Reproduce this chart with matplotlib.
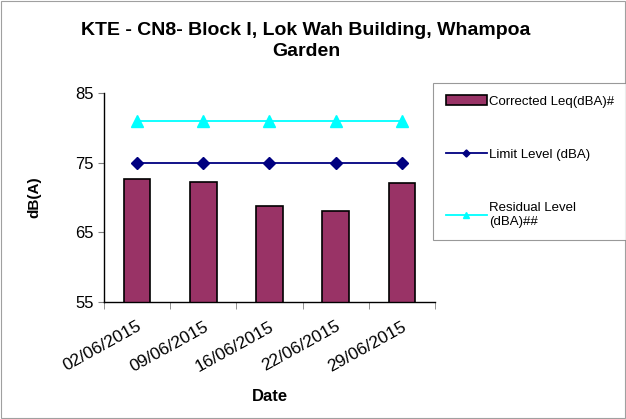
import numpy as np
import matplotlib.pyplot as plt
from matplotlib.patches import Rectangle

plt.rcParams['font.family'] = ['Liberation Sans', 'DejaVu Sans']

# data
dates = ["02/06/2015", "09/06/2015", "16/06/2015", "22/06/2015", "29/06/2015"]
corrected_leq = [72.7, 72.3, 68.8, 68.1, 72.1]
limit_level = [75, 75, 75, 75, 75]
residual_level = [81, 81, 81, 81, 81]

fig = plt.figure(figsize=(6.26, 4.19), dpi=100)
fig.patches.append(Rectangle((0.002, 0.002), 0.996, 0.996, transform=fig.transFigure,
                             fill=False, edgecolor='#a0a0a0', linewidth=0.8))
ax = fig.add_axes([0.166, 0.279, 0.529, 0.499])

x = np.arange(len(dates))
bars = ax.bar(x, corrected_leq, width=0.4, color='#993366', edgecolor='black', linewidth=1.2,
              label='Corrected Leq(dBA)#', zorder=2)
lim, = ax.plot(x, limit_level, color='#000080', marker='D', markersize=6, linewidth=1.3,
               label='Limit Level (dBA)', zorder=3)
res, = ax.plot(x, residual_level, color='#00FFFF', marker='^', markersize=8, linewidth=1.3,
               label='Residual Level\n(dBA)##', zorder=3)

ax.set_xlim(-0.5, len(dates) - 0.5)
ax.set_ylim(55, 85)
ax.set_yticks([55, 65, 75, 85])
ax.tick_params(axis='y', labelsize=12, direction='out', length=4, color='#808080')
ax.set_xticks(x)
ax.set_xticklabels(dates, rotation=29, ha='right', rotation_mode='anchor', fontsize=12.5)
ax.tick_params(axis='x', length=0, pad=12)
ax.set_xticks(np.arange(-0.5, len(dates)), minor=True)
ax.tick_params(axis='x', which='minor', length=5, color='#808080')

for s in ['top', 'right']:
    ax.spines[s].set_visible(False)
ax.spines['left'].set_linewidth(1.0)
ax.spines['bottom'].set_linewidth(1.0)

ax.set_ylabel('dB(A)', fontsize=11, fontweight='bold', labelpad=24)
ax.set_xlabel('Date', fontsize=12, fontweight='bold', labelpad=11)
fig.text(0.489, 0.903, 'KTE - CN8- Block I, Lok Wah Building, Whampoa\nGarden',
         ha='center', va='center', fontsize=14, fontweight='bold', linespacing=1.3)

leg = fig.legend(handles=[bars, lim, res], loc='upper left', bbox_to_anchor=(0.692, 0.802),
                 fontsize=9.5, frameon=True, fancybox=False, edgecolor='#808080',
                 labelspacing=3.1, borderpad=0.95, handlelength=3.1, handletextpad=0.2,
                 markerscale=0.6, borderaxespad=0)
leg.get_frame().set_linewidth(0.8)

fig.savefig('out.png', dpi=100)
